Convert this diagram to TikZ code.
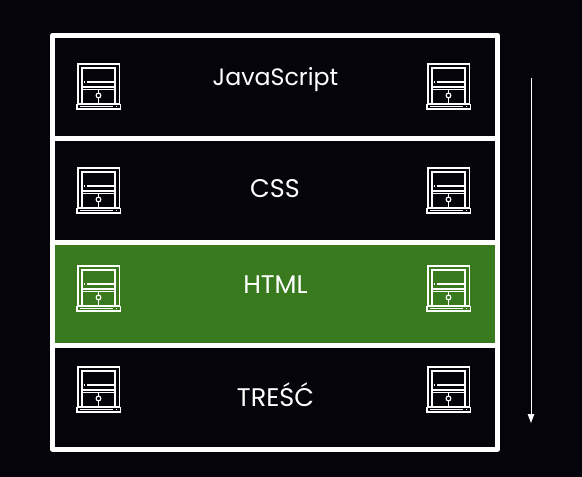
\documentclass[tikz,border=0pt]{standalone}
\usepackage{fontspec}
\setmainfont{Poppins}
\usetikzlibrary{arrows.meta}
\definecolor{bg}{HTML}{05040A}
\definecolor{leaf}{HTML}{3A7A1E}
\tikzset{
  x=1pt,y=-1pt,
  rowbox/.style={draw=white,line width=5pt,line join=round,minimum width=445pt,inner sep=0pt,outer sep=0pt,anchor=north west},
  rowlabel/.style={text=white,font=\fontsize{23.7}{28}\selectfont,inner sep=0pt},
  capslabel/.style={text=white,font=\fontsize{25.5}{28}\selectfont,inner sep=0pt},
  iconline/.style={draw=white,line width=1.1pt},
  iconframe/.style={draw=white,line width=1.5pt},
  flowarrow/.style={draw=white,line width=1pt,-{Triangle[length=9pt,width=6.5pt]}},
  pics/sash/.style={code={
    \draw[iconframe] (0,0) rectangle (41.5,40);
    \draw[iconframe] (4,4) rectangle (37,40);
    \draw[iconline] (4,23) -- (37,23);
    \draw[iconline] (4,25.5) -- (37,25.5);
    \draw[iconline] (9,18) -- (37,18);
    \draw[iconline] (6,18) -- (7,18);
    \draw[iconline] (20.5,26) -- (20.5,29) (20.5,34) -- (20.5,40);
    \draw[iconline] (20.5,31.5) circle (2.4);
    \draw[iconframe] (-1,40.5) rectangle (42.5,45);
    \draw[iconline] (2,42.8) -- (35,42.8);
    \draw[iconline] (38,42.8) -- (39,42.8);
  }}
}
\begin{document}
\begin{tikzpicture}
\fill[bg] (0,0) rectangle (582,477);
\useasboundingbox (0,0) rectangle (582,477);
\fill[leaf] (53,242) rectangle (497,345);
\node[rowbox,minimum height=103pt] (r1) at (52.5,35.5) {};
\node[rowbox,minimum height=104pt] (r2) at (52.5,138.5) {};
\node[rowbox,minimum height=103pt] (r3) at (52.5,242.5) {};
\node[rowbox,minimum height=103.5pt] (r4) at (52.5,345.5) {};
\node[rowlabel] (t1) at (275.5,80) {JavaScript};
\node[capslabel] (t2) at (275,189) {CSS};
\node[capslabel] (t3) at (275.5,285) {HTML};
\node[capslabel] (t4) at (275.5,394.5) {TREŚĆ};
\pic at (78,64) {sash};
\pic at (428,64) {sash};
\pic at (78,168) {sash};
\pic at (428,168) {sash};
\pic at (78,266) {sash};
\pic at (428,266) {sash};
\pic at (78,367) {sash};
\pic at (428,367) {sash};
\coordinate (a1) at (531,78);
\coordinate (a2) at (531,423);
\draw[flowarrow] (a1) -- (a2);
\end{tikzpicture}
\end{document}
